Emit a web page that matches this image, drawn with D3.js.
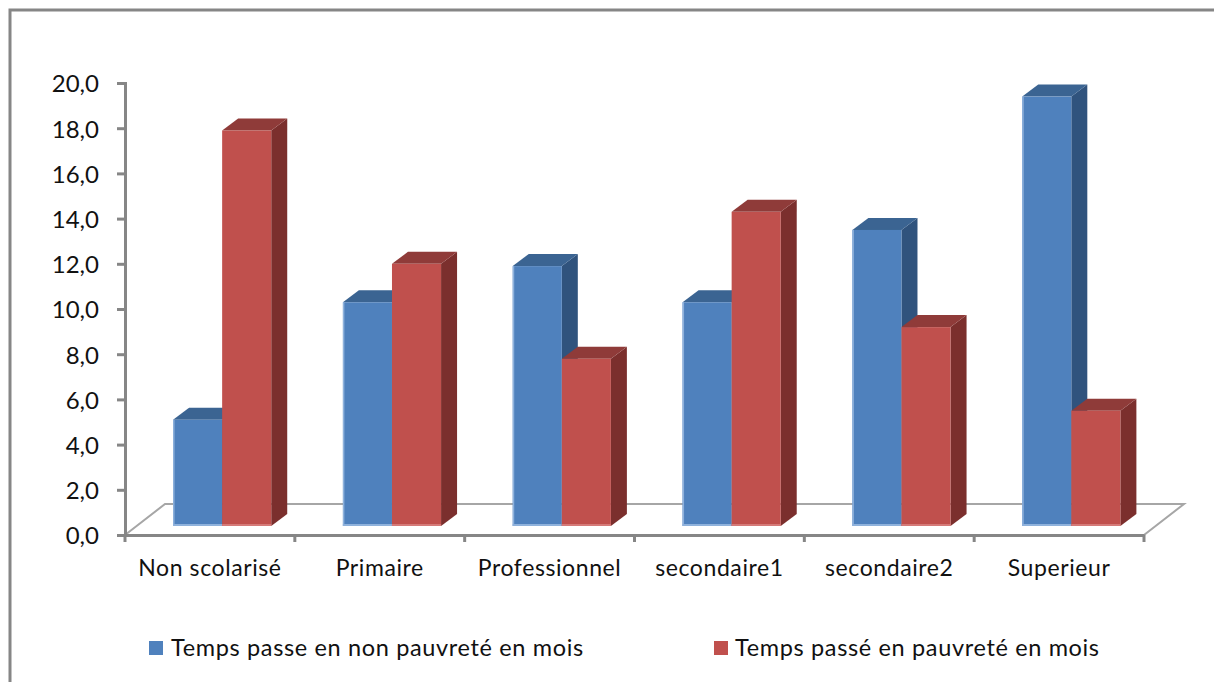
<!DOCTYPE html>
<html><head><meta charset="utf-8">
<script src="https://cdnjs.cloudflare.com/ajax/libs/d3/7.8.5/d3.min.js"></script>
<style>
html,body{margin:0;padding:0;background:#fff;overflow:hidden}
svg{display:block}
text{font-family:Lato,"Open Sans",sans-serif;fill:#111}
</style></head><body><svg id="c" width="1214" height="682"></svg>
<script>
const categories = ["Non scolarisé","Primaire","Professionnel","secondaire1","secondaire2","Superieur"];
const nonPauvrete = [4.7, 9.9, 11.5, 9.9, 13.1, 19.0];
const pauvrete = [17.5, 11.6, 7.4, 13.9, 8.8, 5.1];
const seriesNames = ["Temps passe en non pauvreté en mois","Temps passé en pauvreté en mois"];
const yTicks = [0,2,4,6,8,10,12,14,16,18,20];
const palette = [
  {front:"#4f81bd",side:"#30537d",top:"#3b6492",edge:"#8fb2dc"},
  {front:"#c0504d",side:"#7b2f2d",top:"#8f3b39",edge:"#d57a78"}
];
const grey = "#868686";
const left=125,right=1144,axisBase=535,axisTop=83;
const depthX=16,depthY=12,floorX=40,floorY=31,lift=9;

const svg=d3.select("#c");
const y=d3.scaleLinear().domain([0,20]).range([axisBase,axisTop]);
const x=d3.scaleBand().domain(categories).range([left,right]);
const s=d3.scaleBand().domain([0,1]).range([x.bandwidth()*0.283,x.bandwidth()*0.861]);

// chart frame
svg.append("path").attr("d","M10,682V10H1214").attr("fill","none").attr("stroke",grey).attr("stroke-width",3);

// floor
svg.append("path")
  .attr("d",`M${left},${axisBase}L${left+floorX},${axisBase-floorY}H${right+floorX}L${right},${axisBase}`)
  .attr("fill","none").attr("stroke","#a6a6a6").attr("stroke-width",2);

// y axis
const gy=svg.append("g").attr("transform",`translate(${left},0)`)
  .call(d3.axisLeft(y).tickValues(yTicks).tickSize(8).tickSizeOuter(8).tickPadding(18)
    .tickFormat(d=>d3.format(".1f")(d).replace(".",",")));
gy.selectAll("path,line").attr("stroke",grey).attr("stroke-width",3);
gy.selectAll("text").attr("font-size",24).attr("dy","0.37em").style("font-family","Lato");

// x axis
const gx=svg.append("g").attr("transform",`translate(0,${axisBase})`)
  .call(d3.axisBottom(x).tickSize(0).tickPadding(25));
gx.select("path").attr("stroke",grey).attr("stroke-width",3);
gx.selectAll("text").attr("font-size",23).attr("letter-spacing",0.6).style("font-family","Lato");
svg.append("g").selectAll("line").data([...categories.map(c=>x(c)),right]).join("line")
  .attr("x1",d=>d).attr("x2",d=>d).attr("y1",axisBase).attr("y2",axisBase+7)
  .attr("stroke",grey).attr("stroke-width",3);

// bars
const bars=svg.append("g");
categories.forEach((c,i)=>{
  [nonPauvrete,pauvrete].forEach((vals,k)=>{
    const p=palette[k], x0=x(c)+s(k), w=s.bandwidth(), x1=x0+w;
    const y0=y(0)-lift, yt=y(vals[i])-lift;
    const g=bars.append("g");
    g.append("path").attr("fill",p.side)
      .attr("d",`M${x1},${y0}L${x1+depthX},${y0-depthY}V${yt-depthY}L${x1},${yt}Z`);
    g.append("path").attr("fill",p.top)
      .attr("d",`M${x0},${yt}L${x0+depthX},${yt-depthY}H${x1+depthX}L${x1},${yt}Z`);
    g.append("rect").attr("x",x0).attr("y",yt).attr("width",w).attr("height",y0-yt).attr("fill",p.front);
    g.append("rect").attr("x",x0).attr("y",y0-2).attr("width",w).attr("height",2).attr("fill",p.edge);
    if(k===0) g.append("rect").attr("x",x0).attr("y",yt).attr("width",1.5).attr("height",y0-yt).attr("fill",p.edge);
  });
});

// legend
const legendX=d3.scaleOrdinal().domain([0,1]).range([149,714]);
const lg=svg.append("g").selectAll("g").data(seriesNames).join("g")
  .attr("transform",(d,i)=>`translate(${legendX(i)},641)`);
lg.append("rect").attr("width",14).attr("height",14).attr("fill",(d,i)=>palette[i].front);
lg.append("text").attr("x",(d,i)=>i?21:22).attr("y",14.5).attr("font-size",23.5).attr("letter-spacing",0.65).text(d=>d);
</script></body></html>
